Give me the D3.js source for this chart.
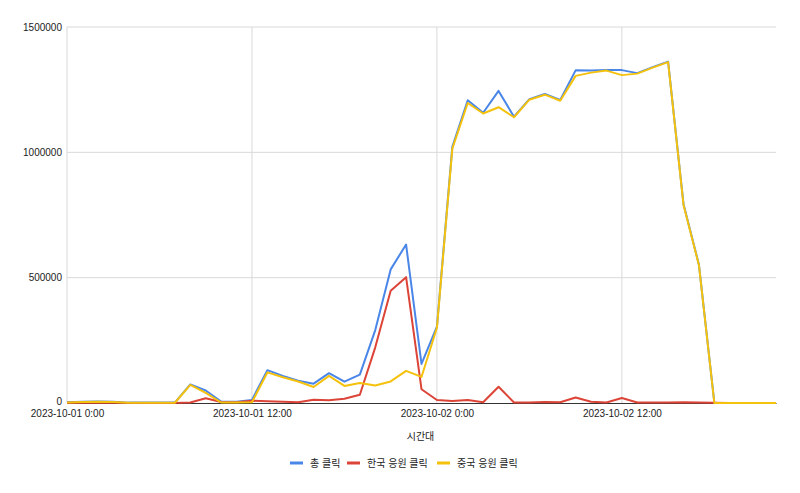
<!DOCTYPE html>
<html><head><meta charset="utf-8">
<script src="https://cdn.jsdelivr.net/npm/d3@7"></script>
<style>body{margin:0;background:#fff}svg{display:block}</style>
</head><body>
<svg id="c" width="800" height="493"></svg>
<script>
const startDate = "2023-10-01T00:00:00";
const hours = d3.range(0, 47);
const seriesNames = ["총 클릭", "한국 응원 클릭", "중국 응원 클릭"];
const totalClicks = [3000,5000,6000,5000,1500,1500,1500,1500,74000,50000,6000,5000,12000,131000,108000,89000,77000,119000,85000,113000,291000,533000,632000,156000,305000,1022000,1208000,1158000,1245000,1142000,1212000,1233000,1209000,1327000,1326000,1328000,1328000,1316000,1340000,1362000,793000,552000,1000,500,500,500,500];
const koreaClicks = [1000,1000,1000,1000,500,500,500,500,2000,19000,4000,3000,9000,7000,5000,3000,13000,11000,17000,33000,222000,448000,502000,55000,12000,8000,12000,3000,65000,2000,2000,4000,3000,22000,5000,2000,20000,2000,2000,2000,3000,2000,1000,500,500,500,500];
const chinaClicks = [2000,4000,5000,4000,1000,1000,1000,1000,72000,40000,2000,2000,3000,122000,103000,86000,64000,108000,68000,80000,70000,86000,128000,104000,300000,1015000,1197000,1155000,1180000,1140000,1210000,1230000,1206000,1305000,1318000,1326000,1308000,1314000,1338000,1360000,790000,550000,0,0,0,0,0];
const yTicks = [0, 500000, 1000000, 1500000];
const xTickHours = [0, 12, 24, 36];
const xTitle = "시간대";
const colors = ["#4a86e8", "#db4437", "#f4c20d"];

const svg = d3.select("#c");
const L = 67, R = 776, T = 27, B = 403;
const t0 = new Date(startDate);
const toDate = h => new Date(t0.getTime() + h * 3600000);
const x = d3.scaleTime().domain([toDate(0), toDate(46)]).range([L, R]);
const y = d3.scaleLinear().domain([0, 1500000]).range([B, T]);
const fmt = d3.timeFormat("%Y-%m-%d %-H:%M");
const font = "Arial, 'Liberation Sans', 'Noto Sans CJK KR', sans-serif";

// gridlines
svg.append("g").selectAll("line").data(yTicks.slice(1)).join("line")
  .attr("x1", L).attr("x2", R).attr("y1", d => y(d)).attr("y2", d => y(d))
  .attr("stroke", "#d9d9d9").attr("stroke-width", 1);
svg.append("g").selectAll("line").data(xTickHours).join("line")
  .attr("x1", d => x(toDate(d))).attr("x2", d => x(toDate(d)))
  .attr("y1", T).attr("y2", B)
  .attr("stroke", "#d9d9d9").attr("stroke-width", 1);

// y axis labels
const yAxis = d3.axisLeft(y).tickValues(yTicks).tickFormat(d3.format("d")).tickSize(0).tickPadding(5);
const gy = svg.append("g").attr("transform", `translate(${L},0)`).call(yAxis);
gy.select(".domain").remove();
gy.selectAll("text").attr("font-family", font).attr("font-size", 10).attr("fill", "#222");
gy.selectAll("text").filter(d => d === 0).attr("dy", "0.1em");

// x axis
const xAxis = d3.axisBottom(x).tickValues(xTickHours.map(toDate)).tickFormat(fmt).tickSize(0).tickPadding(7);
const gx = svg.append("g").attr("transform", `translate(0,${B})`).call(xAxis);
gx.select(".domain").attr("stroke", "#333").attr("stroke-width", 1);
gx.selectAll("text").attr("font-family", font).attr("font-size", 10).attr("fill", "#222");

svg.append("text").attr("x", (L + R) / 2 - 1).attr("y", 440).attr("text-anchor", "middle")
  .attr("font-family", font).attr("font-size", 10).attr("fill", "#222").text(xTitle);

// lines
const data = [totalClicks, koreaClicks, chinaClicks];
const line = d3.line().x((d, i) => x(toDate(hours[i]))).y(d => y(d));
data.forEach((s, k) => {
  svg.append("path").datum(s).attr("d", line).attr("fill", "none")
    .attr("stroke", colors[k]).attr("stroke-width", 2).attr("stroke-linejoin", "round");
});

// legend
const legendX = [290, 347, 437];
const lg = svg.append("g");
seriesNames.forEach((n, k) => {
  lg.append("rect").attr("x", legendX[k]).attr("y", 461.5).attr("width", 13).attr("height", 3).attr("fill", colors[k]);
  lg.append("text").attr("x", legendX[k] + 20).attr("y", 467).attr("font-family", font)
    .attr("font-size", 10).attr("fill", "#222").text(n);
});
</script>
</body></html>
